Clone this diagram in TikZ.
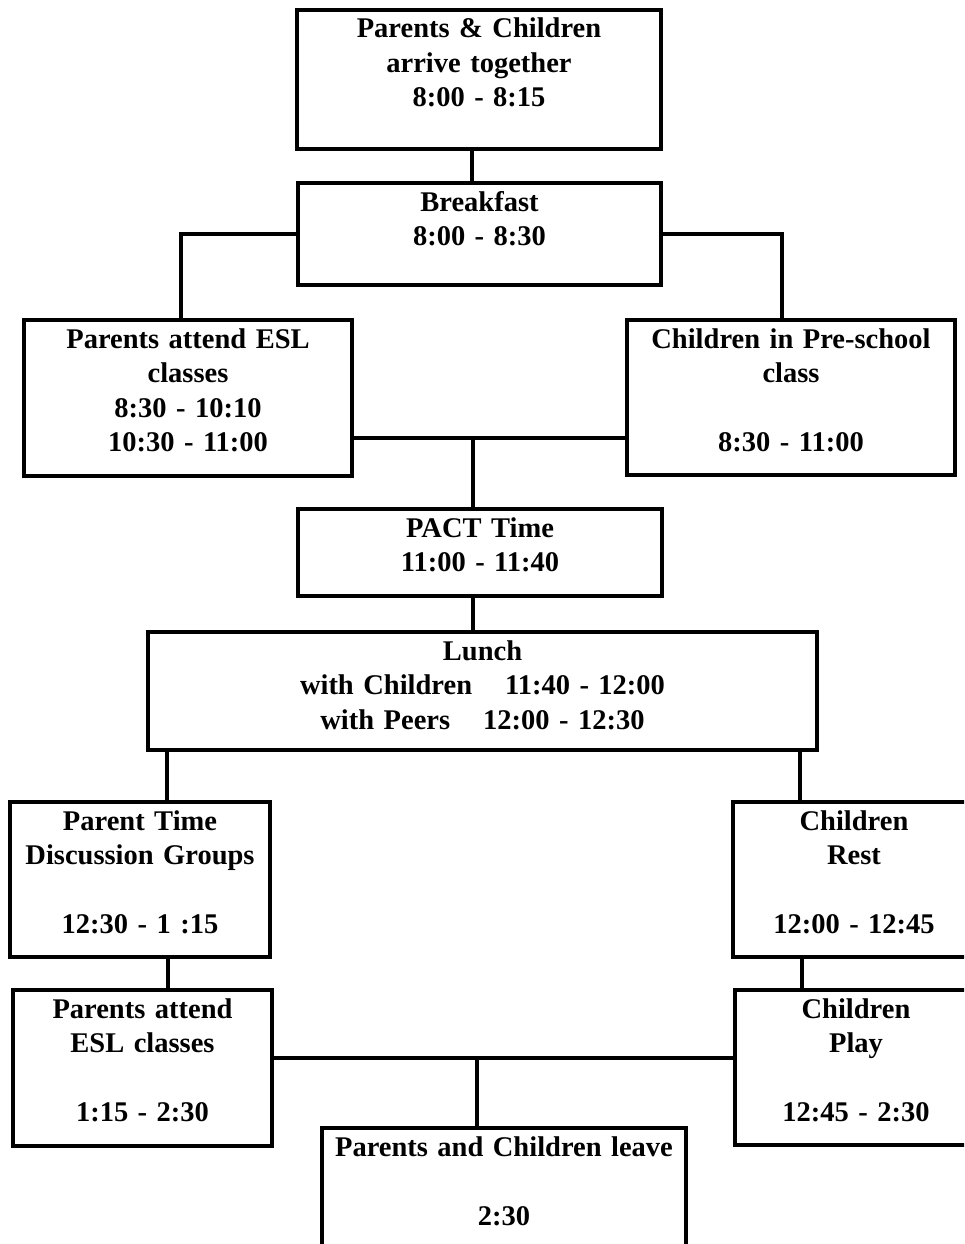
\documentclass[tikz,border=0pt]{standalone}
\usepackage{fontspec}
\setmainfont{Liberation Serif}
\usetikzlibrary{calc}

\begin{document}
\begin{tikzpicture}[x=1pt, y=-1pt,
    box/.style={draw, line width=4pt, inner sep=0pt, anchor=north, align=center,
        text height=28pt, font=\fontsize{28.5}{34.5}\selectfont\bfseries},
    link/.style={line width=4pt}]
    % Page
    \useasboundingbox (0,0) rectangle (964,1244);
    \clip (0,0) rectangle (964,1244);

    % Morning
    \node[box, text width=364pt, text depth=111pt] (arrive) at (479,8)
        {Parents \& Children\\arrive together\\8:00 - 8:15};
    \node[box, text width=363pt, text depth=74pt] (breakfast) at (479.5,181)
        {Breakfast\\8:00 - 8:30};
    \node[box, text width=328pt, text depth=128pt] (eslam) at (188,318)
        {Parents attend ESL\\classes\\8:30 - 10:10\\10:30 - 11:00};
    \node[box, text width=328pt, text depth=127pt] (preschool) at (791,318)
        {Children in Pre-school\\class\\[34.5pt]8:30 - 11:00};
    \node[box, text width=364pt, text depth=59pt] (pact) at (480,507)
        {PACT Time\\11:00 - 11:40};

    % Lunch
    \node[box, text width=669pt, text depth=90pt] (lunch) at (482.5,630)
        {Lunch\\with Children\hspace{33pt}11:40 - 12:00\\with Peers\hspace{33pt}12:00 - 12:30};

    % Afternoon
    \node[box, text width=260pt, text depth=127pt] (parenttime) at (140,800)
        {Parent Time\\Discussion Groups\\[34.5pt]12:30 - 1 :15};
    \node[box, text width=242pt, text depth=127pt] (rest) at (854,800)
        {Children\\Rest\\[34.5pt]12:00 - 12:45};
    \node[box, text width=259pt, text depth=128pt] (eslpm) at (142.5,988)
        {Parents attend\\ESL classes\\[34.5pt]1:15 - 2:30};
    \node[box, text width=242pt, text depth=127pt] (play) at (856,988)
        {Children\\Play\\[34.5pt]12:45 - 2:30};
    \node[box, text width=364pt, text depth=98pt] (leave) at (504,1126)
        {Parents and Children leave\\[34.5pt]2:30};

    % Junctions
    \coordinate (amjoin) at (473,438);
    \coordinate (pmjoin) at (477,1058);

    % Connectors
    \draw[link] ([xshift=-7pt]arrive.south) -- ([xshift=-7pt]arrive.south |- breakfast.north);
    \draw[link] (breakfast.west) -| ([xshift=-7pt]eslam.north);
    \draw[link] (breakfast.east) -| ([xshift=-9pt]preschool.north);
    \draw[link] (eslam.east |- amjoin) -- (preschool.west |- amjoin);
    \draw[link] (amjoin) -- (pact.north -| amjoin);
    \draw[link] (pact.south -| amjoin) -- (lunch.north -| amjoin);
    \draw[link] ([xshift=27pt]parenttime.north |- lunch.south) -- ([xshift=27pt]parenttime.north);
    \draw[link] ([xshift=-54pt]rest.north |- lunch.south) -- ([xshift=-54pt]rest.north);
    \draw[link] ([xshift=28pt]parenttime.south) -- ([xshift=28pt]parenttime.south |- eslpm.north);
    \draw[link] ([xshift=-52pt]rest.south) -- ([xshift=-52pt]rest.south |- play.north);
    \draw[link] (eslpm.east |- pmjoin) -- (play.west |- pmjoin);
    \draw[link] (pmjoin) -- (leave.north -| pmjoin);
\end{tikzpicture}
\end{document}
